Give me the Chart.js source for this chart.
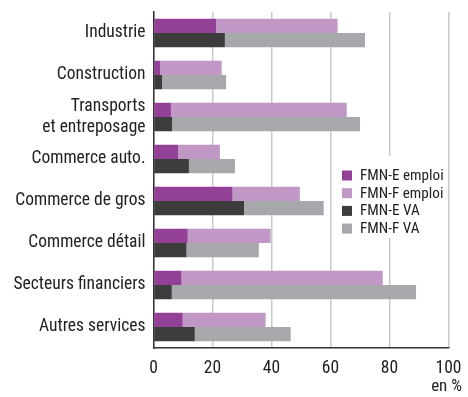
<!DOCTYPE html>
<html>
<head>
<meta charset="utf-8">
<script src="https://cdn.jsdelivr.net/npm/chart.js@4/dist/chart.umd.min.js"></script>
<style>
  html, body { margin: 0; padding: 0; background: #fff; }
  #wrap { width: 468px; height: 397px; }
</style>
</head>
<body>
<div id="wrap"><canvas id="c" width="468" height="397"></canvas></div>
<script>
// categories (top to bottom)
const categories = [
  "Industrie",
  "Construction",
  ["Transports", "et entreposage"],
  "Commerce auto.",
  "Commerce de gros",
  "Commerce détail",
  "Secteurs financiers",
  "Autres services"
];

// shares in %
const fmnEEmploi = [21.2, 2.2, 5.9, 8.3, 26.8, 11.6, 9.5, 9.9];
const fmnFEmploi = [41.2, 20.9, 59.6, 14.2, 22.8, 28.1, 68.2, 28.1];
const fmnEVA     = [24.2, 2.9, 6.3, 12.0, 30.7, 11.2, 6.2, 14.0];
const fmnFVA     = [47.5, 21.7, 63.7, 15.6, 27.0, 24.5, 82.8, 32.5];

const xTicks = [0, 20, 40, 60, 80, 100];

const FONT = '"Roboto Condensed", "Liberation Sans Narrow", "Liberation Sans", sans-serif';
const TXT = "#222";

// legend drawn in the free space of the plot, on a white patch
const boxLegend = {
  id: "boxLegend",
  afterDatasetsDraw(chart) {
    const ctx = chart.ctx;
    ctx.save();
    ctx.fillStyle = "#fff";
    ctx.fillRect(336, 156, 110, 82);
    ctx.font = "15.2px " + FONT;
    ctx.textBaseline = "middle";
    chart.data.datasets.forEach((ds, i) => {
      const y = 175.5 + i * 17.7;
      ctx.fillStyle = ds.backgroundColor;
      ctx.fillRect(342, y - 5, 10, 10);
      ctx.fillStyle = TXT;
      ctx.fillText(ds.label, 360, y + 0.5);
    });
    ctx.textAlign = "right";
    ctx.font = "17px " + FONT;
    ctx.fillText("en %", 462, 387);
    ctx.restore();
  }
};

new Chart(document.getElementById("c"), {
  type: "bar",
  data: {
    labels: categories,
    datasets: [
      { label: "FMN-E emploi", data: fmnEEmploi, backgroundColor: "#934197", stack: "emploi" },
      { label: "FMN-F emploi", data: fmnFEmploi, backgroundColor: "#c097c5", stack: "emploi" },
      { label: "FMN-E VA",     data: fmnEVA,     backgroundColor: "#3c3c3c", stack: "va" },
      { label: "FMN-F VA",     data: fmnFVA,     backgroundColor: "#a7a8ab", stack: "va" }
    ]
  },
  options: {
    indexAxis: "y",
    responsive: false,
    animation: false,
    devicePixelRatio: 1,
    categoryPercentage: 0.68,
    barPercentage: 1,
    layout: { padding: { top: 12, right: 19.5, left: 0, bottom: 0 } },
    plugins: {
      legend: { display: false },
      tooltip: { enabled: false }
    },
    scales: {
      x: {
        stacked: true,
        min: 0,
        max: 100,
        afterBuildTicks: s => { s.ticks = xTicks.map(v => ({ value: v })); },
        afterFit: s => {
          s.height = 49;
          s.paddingLeft = 0;
          s.paddingRight = 0;
        },
        ticks: { color: TXT, font: { family: FONT, size: 17.5 }, padding: 10 },
        grid: { color: "#c9c9c9", lineWidth: 1.5, drawTicks: false },
        border: { color: "#333", width: 1.5 }
      },
      y: {
        stacked: true,
        afterFit: s => {
          s.width = 153.5;
          s.paddingTop = 0;
          s.paddingBottom = 0;
        },
        ticks: {
          color: TXT,
          autoSkip: false,
          font: { family: FONT, size: 17.5, lineHeight: 1.2 },
          padding: 8
        },
        grid: { display: false, drawTicks: false },
        border: { color: "#333", width: 1.5 }
      }
    }
  },
  plugins: [boxLegend]
});
</script>
</body>
</html>
